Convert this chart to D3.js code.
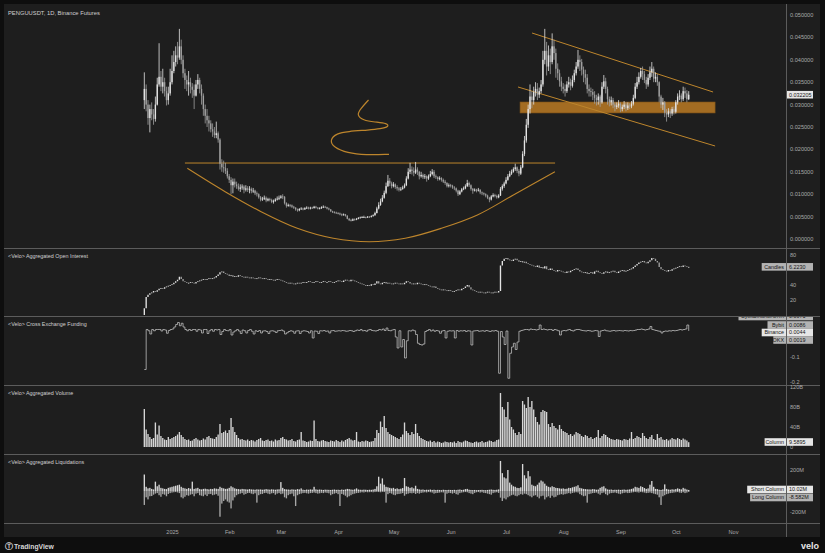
<!DOCTYPE html>
<html><head><meta charset="utf-8">
<script src="https://cdn.jsdelivr.net/npm/d3@7"></script>
<style>html,body{margin:0;padding:0;background:#0e0e0e;overflow:hidden}svg text{font-family:"Liberation Sans",Arial,sans-serif}</style>
</head><body><svg id="c" width="825" height="553"></svg>
<script>
// ---------- DATA (daily, from 2024-12-17 to 2025-10-08) ----------
const firstOpen = 0.0310;
const closeP = [
 .0335,.0300,.0270,.0290,.0278,.0268,.0300,.0345,.0362,.0340,.0350,.0330,.0310,.0325,.0350,
 .0375,.0395,.0410,.0405,.0430,.0400,.0370,.0355,.0345,.0350,.0340,.0333,.0320,.0345,.0355,.0335,.0320,.0290,.0275,.0265,.0258,.0245,.0240,.0232,.0236,.0222,.0168,.0160,.0158,.0152,.0140,
 .0132,.0120,.0128,.0122,.0118,.0112,.0115,.0117,.0110,.0113,.0110,.0112,.0107,.0108,.0102,.0100,.0093,.0088,.0090,.0092,.0086,.0089,.0087,.0083,.0085,.0088,.0090,.0092,
 .0095,.0094,.0080,.0074,.0076,.0075,.0072,.0070,.0066,.0064,.0067,.0068,.0066,.0069,.0070,.0068,.0070,.0069,.0072,.0070,.0068,.0069,.0071,.0072,.0071,.0068,.0066,.0062,.0060,.0059,.0058,
 .0057,.0055,.0054,.0055,.0052,.0045,.0042,.0041,.0044,.0043,.0045,.0047,.0048,.0049,.0049,.0048,.0050,.0049,.0051,.0053,.0058,.0068,.0076,.0084,.0092,.0103,.0118,.0130,.0124,.0118,
 .0122,.0116,.0113,.0110,.0112,.0115,.0120,.0135,.0150,.0155,.0152,.0148,.0155,.0150,.0140,.0143,.0138,.0140,.0135,.0140,.0145,.0150,.0140,.0138,.0134,.0136,.0132,.0128,.0125,.0118,.0120,
 .0119,.0115,.0113,.0108,.0100,.0106,.0111,.0113,.0118,.0125,.0120,.0112,.0108,.0110,.0108,.0110,.0104,.0102,.0100,.0097,.0092,.0088,.0095,.0098,.0096,.0093,.0097,.0112,.0118,.0124,
 .0132,.0140,.0146,.0150,.0156,.0160,.0152,.0146,.0160,.0190,.0220,.0255,.0290,.0318,.0310,.0328,.0335,.0322,.0330,.0345,.0400,.0420,.0385,.0410,.0395,.0430,.0415,.0380,.0370,.0352,.0340,
 .0335,.0330,.0345,.0350,.0342,.0355,.0370,.0385,.0400,.0395,.0378,.0368,.0360,.0335,.0330,.0328,.0322,.0315,.0310,.0318,.0305,.0340,.0352,.0335,.0312,.0305,.0310,.0300,.0295,.0298,.0302,
 .0290,.0295,.0300,.0292,.0298,.0296,.0302,.0315,.0340,.0350,.0362,.0375,.0368,.0355,.0345,.0360,.0372,.0380,.0358,.0362,.0350,.0318,.0300,.0305,.0282,.0278,.0285,.0280,.0290,.0284,
 .0305,.0318,.0320,.0312,.0330,.0325,.0312,.032205
];
const highP = [
 .0372,.0345,.0310,.0300,.0305,.0290,.0318,.0360,.0437,.0375,.0380,.0360,.0340,.0340,.0380,
 .0410,.0420,.0430,.0440,.0469,.0445,.0410,.0380,.0365,.0375,.0360,.0348,.0345,.0355,.0368,.0360,.0345,.0325,.0300,.0290,.0275,.0265,.0258,.0250,.0262,.0240,.0225,.0178,.0175,.0170,.0158,
 .0145,.0138,.0135,.0135,.0128,.0124,.0122,.0122,.0120,.0120,.0118,.0118,.0115,.0114,.0110,.0106,.0102,.0096,.0094,.0097,.0095,.0092,.0092,.0090,.0088,.0091,.0095,.0097,
 .0098,.0100,.0096,.0082,.0079,.0078,.0077,.0074,.0071,.0068,.0069,.0071,.0070,.0071,.0073,.0072,.0072,.0072,.0074,.0074,.0071,.0071,.0073,.0075,.0074,.0072,.0070,.0067,.0063,.0062,.0061,
 .0060,.0059,.0057,.0057,.0056,.0053,.0047,.0045,.0046,.0046,.0047,.0049,.0050,.0051,.0052,.0050,.0051,.0051,.0053,.0055,.0061,.0072,.0082,.0090,.0098,.0108,.0126,.0143,.0136,.0128,
 .0127,.0124,.0120,.0116,.0116,.0119,.0124,.0140,.0158,.0170,.0162,.0160,.0172,.0160,.0152,.0150,.0146,.0145,.0142,.0144,.0152,.0156,.0154,.0144,.0140,.0140,.0138,.0135,.0132,.0127,.0124,
 .0123,.0121,.0118,.0115,.0110,.0109,.0114,.0117,.0122,.0132,.0128,.0122,.0114,.0113,.0112,.0114,.0111,.0106,.0104,.0102,.0099,.0094,.0098,.0102,.0101,.0099,.0100,.0116,.0122,.0128,
 .0138,.0145,.0152,.0155,.0160,.0168,.0162,.0156,.0165,.0196,.0230,.0268,.0300,.0345,.0330,.0340,.0350,.0348,.0338,.0355,.0420,.0469,.0440,.0432,.0425,.0459,.0445,.0425,.0392,.0378,.0362,
 .0348,.0345,.0352,.0362,.0358,.0365,.0378,.0395,.0422,.0410,.0402,.0385,.0378,.0368,.0345,.0338,.0335,.0330,.0322,.0325,.0322,.0350,.0366,.0360,.0340,.0318,.0318,.0315,.0305,.0305,.0310,
 .0305,.0300,.0308,.0305,.0305,.0303,.0308,.0322,.0348,.0362,.0372,.0382,.0385,.0375,.0362,.0368,.0385,.0395,.0385,.0372,.0368,.0352,.0322,.0315,.0308,.0290,.0292,.0290,.0295,.0296,
 .0310,.0325,.0332,.0325,.0340,.0338,.0332,.0330
];
const lowP = [
 .0290,.0285,.0255,.0238,.0265,.0255,.0262,.0298,.0340,.0330,.0325,.0318,.0298,.0300,.0320,
 .0345,.0370,.0385,.0390,.0400,.0390,.0360,.0335,.0330,.0320,.0325,.0315,.0290,.0318,.0335,.0325,.0300,.0275,.0258,.0250,.0240,.0238,.0228,.0225,.0225,.0215,.0155,.0150,.0148,.0145,.0135,
 .0125,.0100,.0102,.0115,.0112,.0108,.0105,.0110,.0102,.0106,.0105,.0102,.0102,.0103,.0098,.0095,.0090,.0084,.0085,.0087,.0082,.0084,.0084,.0080,.0079,.0083,.0086,.0087,
 .0090,.0089,.0077,.0070,.0072,.0071,.0069,.0067,.0063,.0061,.0062,.0065,.0064,.0065,.0067,.0066,.0066,.0067,.0068,.0068,.0066,.0066,.0067,.0069,.0069,.0066,.0064,.0060,.0058,.0057,.0056,
 .0055,.0053,.0051,.0052,.0050,.0044,.0040,.0039,.0040,.0041,.0042,.0044,.0046,.0047,.0047,.0046,.0047,.0047,.0048,.0050,.0052,.0057,.0066,.0074,.0082,.0090,.0100,.0116,.0118,.0113,
 .0115,.0112,.0108,.0106,.0107,.0110,.0113,.0118,.0133,.0145,.0144,.0140,.0145,.0143,.0133,.0137,.0134,.0134,.0128,.0132,.0138,.0142,.0136,.0134,.0130,.0131,.0128,.0125,.0121,.0115,.0115,
 .0115,.0112,.0109,.0104,.0096,.0098,.0104,.0109,.0111,.0116,.0116,.0108,.0101,.0106,.0104,.0106,.0100,.0098,.0097,.0093,.0089,.0082,.0086,.0093,.0093,.0090,.0091,.0096,.0108,.0114,
 .0122,.0130,.0138,.0143,.0148,.0152,.0147,.0140,.0143,.0158,.0185,.0215,.0248,.0280,.0292,.0300,.0318,.0310,.0315,.0325,.0340,.0390,.0365,.0375,.0368,.0390,.0400,.0360,.0355,.0340,.0330,
 .0325,.0318,.0326,.0338,.0332,.0338,.0350,.0365,.0380,.0375,.0365,.0350,.0345,.0325,.0318,.0318,.0310,.0302,.0298,.0300,.0295,.0302,.0335,.0325,.0300,.0296,.0298,.0292,.0285,.0290,.0293,
 .0283,.0285,.0290,.0285,.0288,.0290,.0292,.0298,.0312,.0335,.0345,.0358,.0355,.0348,.0335,.0340,.0355,.0362,.0350,.0350,.0342,.0305,.0292,.0288,.0272,.0262,.0272,.0270,.0275,.0278,
 .0280,.0300,.0310,.0305,.0308,.0315,.0305,.0310
];
const openInterest = [
 9,24,27,29,30,32,31,33,35,36,35,37,38,39,40,
 41,43,45,47,51,48,45,44,43,43,44,43,42,44,45,46,47,48,47,48,49,48,49,50,52,54,57,58,56,55,54,
 52,53,51,52,51,53,52,51,50,51,50,49,50,49,48,49,50,49,48,49,48,47,48,47,46,47,48,47,
 46,45,44,43,42,43,42,41,42,43,42,43,44,43,44,45,44,43,44,45,44,43,44,45,44,44,45,44,43,44,45,
 46,45,44,46,47,46,45,47,46,45,44,43,42,41,40,39,40,39,41,40,42,45,42,41,43,44,42,43,42,41,
 42,43,42,41,42,41,43,45,44,42,41,42,41,43,42,41,40,41,40,39,38,37,38,36,35,34,33,34,33,32,33,
 32,31,32,33,34,33,35,36,38,40,37,34,33,32,31,30,31,30,29,30,31,30,29,30,31,30,32,66,72,75,
 76,74,73,72,74,75,73,71,72,70,71,69,68,67,66,65,64,66,63,64,62,65,61,60,62,60,59,58,60,59,58,
 57,56,58,57,59,60,61,62,60,58,57,56,57,55,56,57,55,58,59,57,56,55,57,58,56,57,58,59,57,56,
 58,59,60,58,59,60,61,62,64,66,68,70,71,72,70,69,71,73,76,75,72,70,64,61,60,59,58,60,59,61,62,
 63,64,65,64,66,65,64,64.2
];
const fundingBinance = [
 -0.150,0.010,0.005,-0.008,0.010,0.005,0.010,0.010,0.010,0.004,0.010,0.008,-0.005,0.006,0.010,
 0.012,0.020,0.030,0.038,0.025,0.035,0.020,0.010,0.005,0.010,0.006,0.010,0.010,0.003,0.010,0.008,-0.004,0.010,0.010,-0.006,0.005,0.010,0.003,0.010,0.008,0.010,-0.010,0.002,0.010,0.006,0.005,
 0.010,-0.012,0.000,0.005,0.010,0.004,-0.006,0.008,0.005,-0.004,0.006,0.010,0.003,-0.008,0.005,0.002,0.006,-0.004,0.004,0.005,0.002,-0.006,0.004,0.005,0.003,-0.002,0.005,0.006,
 0.008,0.004,-0.008,-0.003,0.002,0.005,0.003,-0.005,0.004,0.005,-0.006,0.003,0.005,0.004,0.002,-0.004,0.005,-0.024,0.004,0.003,-0.006,0.005,0.004,0.006,0.003,0.004,-0.004,0.005,0.006,0.003,0.004,
 0.005,0.004,0.006,0.005,0.003,0.004,0.006,0.005,0.002,0.005,0.008,0.006,0.010,0.005,0.006,0.003,0.008,0.010,0.006,0.005,0.004,0.006,0.010,0.008,0.012,0.006,0.016,0.006,0.005,0.008,
 0.010,-0.020,-0.064,0.005,-0.060,-0.030,-0.104,-0.035,0.005,0.004,0.008,0.005,-0.010,-0.045,-0.050,-0.052,-0.048,0.002,0.006,0.010,0.004,0.008,0.003,0.006,0.004,-0.005,0.004,0.006,-0.024,0.003,0.005,
 0.004,0.005,-0.024,0.006,0.003,0.005,0.004,0.006,0.002,0.005,0.004,-0.052,0.004,0.005,0.006,0.003,0.004,0.005,0.003,0.006,0.004,0.002,0.005,0.004,0.006,0.003,-0.165,0.002,-0.020,-0.050,
 0.004,-0.185,-0.085,-0.060,-0.045,-0.070,-0.040,0.003,0.006,0.008,0.010,0.010,0.008,0.012,0.010,0.010,0.008,0.010,0.028,0.010,0.012,0.010,0.008,0.010,0.010,0.006,0.010,0.008,0.005,-0.012,0.004,
 0.006,0.005,0.008,0.010,0.006,0.004,0.008,0.010,0.010,0.008,0.006,0.005,0.004,0.006,0.005,0.003,0.004,0.006,0.005,-0.018,0.004,0.006,0.008,0.005,0.004,0.003,0.005,0.006,0.004,0.005,0.006,
 0.005,0.004,0.006,0.005,0.004,0.006,0.005,0.006,0.008,0.010,0.010,0.012,0.010,0.008,0.010,0.012,0.022,0.010,0.008,0.006,0.004,0.003,-0.004,0.002,0.004,0.003,0.005,0.004,0.006,0.005,
 0.006,0.008,0.010,0.008,0.010,0.012,0.028,0.0044
];
const volumeB = [
 76,35,26,20,16,18,49,25,43,22,18,15,14,20,16,
 18,20,22,25,30,24,20,16,14,15,12,13,16,18,15,13,14,17,15,20,22,18,17,16,20,25,46,28,30,33,28,
 34,58,40,30,24,18,15,16,14,13,15,12,14,13,11,14,16,18,13,12,14,15,12,13,11,15,13,14,
 18,20,16,15,13,14,16,12,11,14,15,30,13,12,10,11,13,12,53,16,12,11,13,14,12,11,10,13,12,11,14,
 12,10,13,11,14,16,18,15,13,14,30,11,10,12,11,13,12,10,11,12,18,34,28,51,40,62,38,30,26,24,
 22,20,18,16,20,25,49,32,28,24,30,26,46,28,22,18,16,14,12,11,13,10,12,9,11,10,8,9,11,10,9,
 10,9,11,8,12,10,9,11,13,12,10,9,8,10,11,9,10,12,9,10,11,13,12,10,11,14,15,108,80,75,
 60,90,55,40,35,28,24,30,26,92,85,78,100,80,92,75,60,50,45,70,74,72,70,46,40,48,42,38,35,44,36,
 32,30,28,24,26,22,25,30,28,26,22,20,24,22,18,20,16,18,20,34,18,22,26,24,20,18,16,15,14,16,15,
 14,13,16,15,14,17,30,16,18,22,20,18,28,22,18,16,20,24,16,14,26,18,20,15,14,16,13,15,18,16,
 15,18,16,14,17,15,13,9.5895
];
const liqShortM = [
 157,40,25,30,20,15,89,45,60,30,25,20,18,30,35,
 40,45,50,55,60,40,30,25,20,28,22,89,20,25,30,18,15,20,22,18,15,20,18,25,22,20,40,30,25,20,22,
 30,45,35,25,20,18,15,20,18,16,14,18,15,14,12,16,14,15,12,14,18,15,13,16,14,12,15,16,
 85,30,18,15,14,12,16,14,12,18,15,25,12,10,14,12,15,13,40,15,12,14,12,10,13,12,11,10,12,14,11,
 12,10,14,11,15,20,18,14,12,16,25,14,12,11,13,12,10,12,11,14,20,45,136,70,120,60,40,35,30,25,
 30,20,25,18,22,28,124,45,40,30,35,25,50,20,15,12,14,10,12,11,14,10,12,9,11,10,8,12,10,9,11,
 10,9,11,8,12,14,10,12,18,20,12,10,9,10,8,9,10,11,9,8,10,12,14,11,10,12,15,286,170,130,
 120,200,80,60,45,40,30,28,35,257,150,120,190,140,60,50,45,60,80,100,90,70,50,40,35,45,38,30,28,25,22,
 25,20,22,30,28,35,40,45,55,30,25,20,18,16,15,14,18,16,12,14,30,40,45,25,15,12,14,10,12,11,13,
 10,12,14,11,13,15,20,25,40,35,30,45,38,28,20,25,60,95,40,20,18,12,10,15,63,20,14,12,16,14,
 18,25,20,15,30,22,14,10.02
];
const liqLongM = [
 -133,-60,-80,-50,-48,-35,-25,-20,-40,-55,-30,-35,-50,-28,-20,
 -15,-12,-10,-14,-20,-60,-70,-55,-40,-45,-35,-30,-50,-25,-20,-40,-45,-50,-35,-48,-30,-28,-40,-35,-30,-45,-245,-120,-95,-80,-100,
 -110,-166,-90,-60,-40,-30,-25,-20,-35,-28,-20,-18,-25,-30,-22,-111,-40,-30,-28,-20,-18,-25,-30,-22,-20,-35,-25,-20,
 -30,-25,-60,-70,-40,-30,-25,-50,-143,-40,-30,-25,-20,-18,-22,-25,-20,-18,-15,-20,-25,-22,-18,-20,-15,-18,-22,-40,-30,-25,-20,
 -30,-143,-28,-35,-45,-60,-50,-40,-30,-25,-20,-18,-15,-12,-14,-10,-12,-11,-10,-12,-10,-8,-10,-12,-8,-10,-111,-30,-20,-25,
 -35,-40,-30,-28,-25,-20,-45,-30,-25,-20,-22,-18,-28,-20,-25,-18,-15,-12,-14,-10,-12,-15,-25,-20,-18,-15,-12,-14,-111,-25,-18,
 -20,-25,-18,-30,-35,-20,-15,-12,-10,-12,-20,-25,-30,-18,-12,-10,-15,-12,-18,-20,-25,-30,-35,-20,-15,-12,-18,-63,-95,-70,
 -80,-60,-50,-40,-35,-45,-50,-40,-30,-35,-25,-30,-40,-50,-60,-45,-40,-55,-70,-50,-45,-80,-60,-50,-65,-45,-60,-55,-40,-35,-30,
 -35,-30,-25,-20,-25,-18,-15,-12,-14,-30,-40,-50,-45,-111,-30,-25,-20,-18,-15,-25,-35,-20,-15,-30,-40,-25,-20,-18,-15,-20,-25,
 -30,-22,-18,-15,-20,-18,-15,-12,-10,-12,-15,-10,-12,-15,-20,-18,-15,-20,-25,-30,-35,-60,-133,-50,-40,-30,-25,-20,-18,-15,
 -12,-10,-15,-18,-12,-20,-15,-8.582
];
// axis ticks
const priceTicks = [0,0.005,0.01,0.015,0.02,0.025,0.03,0.035,0.04,0.045,0.05];
const oiTicks = [20,40,80];
const fundTicks = [-0.1,-0.2];
const volTicks = [0,40,80,120];
const volTickLabels = ["0","40B","80B","120B"];
const liqTicks = [200,-200];
const liqTickLabels = ["200M","-200M"];
const monthTicks = ["2025-01-01","2025-02-01","2025-03-01","2025-04-01","2025-05-01","2025-06-01","2025-07-01","2025-08-01","2025-09-01","2025-10-01","2025-11-01"];
const monthLabels = ["2025","Feb","Mar","Apr","May","Jun","Jul","Aug","Sep","Oct","Nov"];
// drawings: [day of 2025 (0 = Jan 1), price]
const resistLine = [[7.0,0.01696],[207.6,0.01696]];
const bowl = [[8.3,0.01578],[28.8,0.01056],[48.3,0.00609],[67.9,0.00239],[87.4,0.00016],[106.9,-0.0006],[126.4,0.00016],[146.0,0.00239],[165.5,0.00536],[185.0,0.00982],[207.5,0.01502]];
const steam = [[106.5,0.03103],[102.0,0.02900],[100.1,0.02768],[103.5,0.02650],[110.0,0.02610],[116.7,0.02583],[117.6,0.02507],[113.0,0.02460],[106.8,0.02433],[95.0,0.02400],[89.3,0.02359],[85.4,0.0221],[87.5,0.0205],[95.0,0.0192],[104.9,0.01875],[117.6,0.01891]];
const channelUpper = [[195.1,0.04598],[293.2,0.03281]];
const channelLower = [[187.5,0.03393],[294.3,0.02076]];
const zoneBand = {from:188.6, to:294.3, low:0.02813, high:0.03058};

// ---------- CHART ----------
const svg = d3.select("#c");
const W = 825, H = 553;
const L = 4, R = 786, AX = 820;
const N = Math.min(closeP.length, highP.length, lowP.length, openInterest.length, fundingBinance.length, volumeB.length, liqShortM.length, liqLongM.length);
const dates = d3.range(N).map(i => new Date(Date.UTC(2024,11,17+i)));
const doy = d => new Date(Date.UTC(2025,0,1) + d*86400000);

const x = d3.scaleUtc().domain([new Date(Date.UTC(2025,0,1)), new Date(Date.UTC(2025,10,1))]).range([172,733]);
const panels = {
  main:{t:4,b:248}, oi:{t:248,b:316}, fund:{t:316,b:385}, vol:{t:385,b:454}, liq:{t:454,b:523}
};
const yP = d3.scaleLinear().domain([0,0.05]).range([239,15]);
const yOI = d3.scaleLinear().domain([0,80]).range([315,255]);
const yF = d3.scaleLinear().domain([-0.2,0]).range([382,332]);
const yV = d3.scaleLinear().domain([0,120]).range([447,387]);
const yL = d3.scaleLinear().domain([-200,200]).range([512,470]);

svg.append("rect").attr("width",W).attr("height",H).attr("fill","#0e0e0e");
svg.append("rect").attr("x",L).attr("y",4).attr("width",AX-L).attr("height",533).attr("fill","#1e1e1e");

const defs = svg.append("defs");
Object.entries(panels).forEach(([k,p])=>{
  defs.append("clipPath").attr("id","clip-"+k).append("rect").attr("x",L).attr("y",p.t+1).attr("width",R-L).attr("height",p.b-p.t-1);
});
defs.append("clipPath").attr("id","clip-fundaxis").append("rect").attr("x",L).attr("y",317).attr("width",AX-L).attr("height",68);
const gPanel = k => svg.append("g").attr("clip-path","url(#clip-"+k+")");

const UP = "#e4e4e4", DOWN = "#a0a0a0";
const bw = 1.35;

// ---- main panel: annotations below candles
const gm = gPanel("main");
const bx0 = x(doy(zoneBand.from)), bx1 = x(doy(zoneBand.to));
gm.append("rect").attr("x",bx0).attr("width",bx1-bx0)
  .attr("y",yP(zoneBand.high)).attr("height",yP(zoneBand.low)-yP(zoneBand.high))
  .attr("fill","#a36c22").attr("stroke","#7a5018").attr("stroke-width",0.6);
const orange = "#bd852c";
const lineGen = d3.line().x(d=>x(doy(d[0]))).y(d=>yP(d[1]));
[resistLine, channelUpper, channelLower].forEach(seg=>{
  gm.append("path").attr("d",lineGen(seg)).attr("fill","none").attr("stroke",orange).attr("stroke-width",1);
});
gm.append("path").attr("d",d3.line().x(d=>x(doy(d[0]))).y(d=>yP(d[1])).curve(d3.curveCatmullRom)(bowl)).attr("fill","none").attr("stroke",orange).attr("stroke-width",1.1);
gm.append("path").attr("d",d3.line().x(d=>x(doy(d[0]))).y(d=>yP(d[1])).curve(d3.curveBasis)(steam)).attr("fill","none").attr("stroke",orange).attr("stroke-width",1.2);

// candles
const priceData = dates.map((d,i)=>({d, o: i===0?firstOpen:closeP[i-1], c: closeP[i], h: highP[i], l: lowP[i]}));
gm.append("g").selectAll("line").data(priceData).join("line")
  .attr("x1",d=>x(d.d)).attr("x2",d=>x(d.d))
  .attr("y1",d=>yP(Math.max(d.h,d.o,d.c))).attr("y2",d=>yP(Math.min(d.l,d.o,d.c)))
  .attr("stroke",d=>d.c>=d.o?UP:DOWN).attr("stroke-width",0.8);
gm.append("g").selectAll("rect").data(priceData).join("rect")
  .attr("x",d=>x(d.d)-bw/2).attr("width",bw)
  .attr("y",d=>yP(Math.max(d.o,d.c)))
  .attr("height",d=>Math.max(0.8, Math.abs(yP(d.o)-yP(d.c))))
  .attr("fill",d=>d.c>=d.o?UP:DOWN);

// ---- OI candles
const go = gPanel("oi");
const oiData = dates.map((d,i)=>({d, o: i===0?0:openInterest[i-1], c: openInterest[i]}));
go.append("g").selectAll("rect").data(oiData).join("rect")
  .attr("x",d=>x(d.d)-bw/2).attr("width",bw)
  .attr("y",d=>yOI(Math.max(d.o,d.c)))
  .attr("height",d=>Math.max(0.8, Math.abs(yOI(d.o)-yOI(d.c))))
  .attr("fill",d=>d.c>=d.o?UP:DOWN);

// ---- funding step line
const gf = gPanel("fund");
const fData = dates.map((d,i)=>({d, v: fundingBinance[i]}));
gf.append("path").datum(fData)
  .attr("d", d3.line().x(d=>x(d.d)).y(d=>yF(d.v)).curve(d3.curveStepAfter))
  .attr("fill","none").attr("stroke","#bdbdbd").attr("stroke-width",0.8);

// ---- volume
const gv = gPanel("vol");
gv.append("g").selectAll("rect").data(dates.map((d,i)=>({d,v:volumeB[i]}))).join("rect")
  .attr("x",d=>x(d.d)-bw/2).attr("width",bw)
  .attr("y",d=>yV(d.v)).attr("height",d=>yV(0)-yV(d.v))
  .attr("fill","#d6d6d6");

// ---- liquidations
const gl = gPanel("liq");
const lqData = dates.map((d,i)=>({d,s:liqShortM[i],l:liqLongM[i]}));
gl.append("g").selectAll("rect.s").data(lqData).join("rect").attr("class","s")
  .attr("x",d=>x(d.d)-bw/2).attr("width",bw)
  .attr("y",d=>yL(d.s)).attr("height",d=>yL(0)-yL(d.s)).attr("fill","#d8d8d8");
gl.append("g").selectAll("rect.l").data(lqData).join("rect").attr("class","l")
  .attr("x",d=>x(d.d)-bw/2).attr("width",bw)
  .attr("y",yL(0)).attr("height",d=>yL(d.l)-yL(0)).attr("fill","#a8a8a8");

// separators (drawn above marks)
const sepYs = [248,316,385,454,523];
svg.append("g").selectAll("line").data(sepYs).join("line")
  .attr("x1",L).attr("x2",AX).attr("y1",d=>d+0.5).attr("y2",d=>d+0.5)
  .attr("stroke","#5c5c5c").attr("stroke-width",1);
svg.append("line").attr("x1",R+0.5).attr("x2",R+0.5).attr("y1",4).attr("y2",537).attr("stroke","#5c5c5c");

// ---- right axes
const axTxt = "#a9a9a9", fs = 5.6;
function axisLabels(vals, scale, fmt){
  svg.append("g").selectAll("text").data(vals).join("text")
    .attr("x",R+4).attr("y",d=>scale(d)).attr("dy","0.35em")
    .attr("font-size",fs).attr("fill",axTxt).text((d,i)=>fmt(d,i));
}
axisLabels(priceTicks, yP, d=>d3.format(".6f")(d));
axisLabels(oiTicks, yOI, d=>String(d));
axisLabels(fundTicks, yF, d=>String(d));
axisLabels(volTicks, yV, (d,i)=>volTickLabels[i]);
axisLabels(liqTicks, yL, (d,i)=>liqTickLabels[i]);

function tag(yc, name, value, light, parent){
  const bg = light ? "#e6e6e6" : "#b3b3b3";
  const g = (parent || svg).append("g");
  if(name){
    const w = name.length*2.9+4;
    g.append("rect").attr("x",R-w).attr("y",yc-3.8).attr("width",w).attr("height",7.6).attr("fill",bg);
    g.append("text").attr("x",R-2).attr("y",yc).attr("dy","0.35em").attr("text-anchor","end").attr("font-size",5.4).attr("fill","#161616").text(name);
  }
  g.append("rect").attr("x",R+1).attr("y",yc-3.8).attr("width",26).attr("height",7.6).attr("fill",bg);
  g.append("text").attr("x",R+3).attr("y",yc).attr("dy","0.35em").attr("font-size",5.4).attr("fill","#161616").text(value);
}
tag(yP(closeP[N-1]), null, "0.032205", true);
tag(yOI(openInterest[N-1]) , "Candles", "6.2230", false);
const gFundTags = svg.append("g").attr("clip-path","url(#clip-fundaxis)");
tag(316.5, "BybitBinanceOKX", "0.0071", false, gFundTags);
tag(325, "Bybit", "0.0086", false);
tag(332.5, "Binance", "0.0044", true);
tag(340, "OKX", "0.0019", false);
tag(442, "Column", "9.5895", true);
tag(489.5, "Short Column", "10.02M", true);
tag(497.5, "Long Column", "-8.582M", false);

// ---- time axis
const xAxis = d3.axisBottom(x).tickValues(monthTicks.map(s=>new Date(s+"T00:00:00Z"))).tickFormat((d,i)=>monthLabels[i]).tickSize(0);
const gx = svg.append("g").attr("transform","translate(0,527)").call(xAxis);
gx.select(".domain").remove();
gx.selectAll("text").attr("font-size",fs).attr("fill",axTxt).attr("font-family","Liberation Sans, Arial, sans-serif");

// ---- titles
const titleC = "#cfcfcf";
svg.append("text").attr("x",8).attr("y",14.5).attr("font-size",5.8).attr("fill",titleC).text("PENGUUSDT, 1D, Binance Futures");
[["<Velo> Aggregated Open Interest",257.5],["<Velo> Cross Exchange Funding",326],["<Velo> Aggregated Volume",395],["<Velo> Aggregated Liquidations",463.5]]
 .forEach(([t,y])=>svg.append("text").attr("x",8).attr("y",y).attr("font-size",5.4).attr("fill",titleC).text(t));

// ---- footer
const ft = svg.append("g");
ft.append("text").attr("x",5).attr("y",549).attr("font-size",7.5).attr("font-weight","bold").attr("fill","#d8d8d8").text("\u24C9");
ft.append("text").attr("x",14).attr("y",549).attr("font-size",6.8).attr("font-weight","bold").attr("fill","#d8d8d8").text("TradingView");
ft.append("text").attr("x",819).attr("y",548.5).attr("text-anchor","end").attr("font-size",9).attr("font-weight","bold").attr("fill","#e6e6e6").text("velo");
</script></body></html>
